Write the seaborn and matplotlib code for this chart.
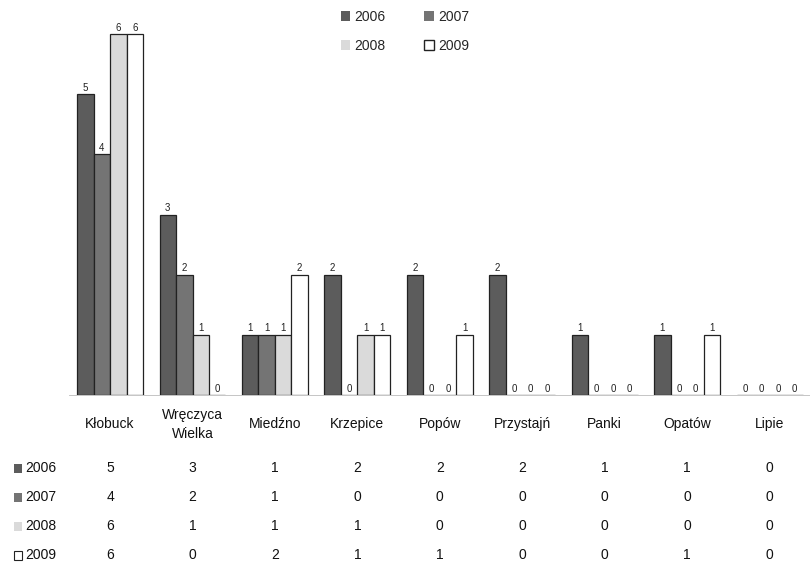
import matplotlib
matplotlib.use("Agg")
import matplotlib.pyplot as plt
import matplotlib.patches as mpatches
import matplotlib.transforms as mtrans
import seaborn as sns
import pandas as pd

categories = ["Kłobuck", "Wręczyca\nWielka", "Miedźno", "Krzepice", "Popów",
              "Przystajń", "Panki", "Opatów", "Lipie"]
years = ["2006", "2007", "2008", "2009"]
v2006 = [5, 3, 1, 2, 2, 2, 1, 1, 0]
v2007 = [4, 2, 1, 0, 0, 0, 0, 0, 0]
v2008 = [6, 1, 1, 1, 0, 0, 0, 0, 0]
v2009 = [6, 0, 2, 1, 1, 0, 0, 1, 0]
series = [v2006, v2007, v2008, v2009]
colors = ["#5c5c5c", "#747474", "#dadada", "#ffffff"]

rows = []
for y, vals in zip(years, series):
    for c, v in zip(categories, vals):
        rows.append({"gmina": c, "rok": y, "liczba": v})
df = pd.DataFrame(rows)

sns.set_theme(style="white")
plt.rcParams["font.family"] = ["Liberation Sans", "DejaVu Sans"]

fig = plt.figure(figsize=(8.1, 5.74), dpi=100)
ax = fig.add_axes([0.085, 0.312, 0.916, 0.66])

sns.barplot(data=df, x="gmina", y="liczba", hue="rok", palette=colors,
            order=categories, hue_order=years, width=0.8,
            edgecolor="#222222", linewidth=0.9, ax=ax, legend=False)

for cont in ax.containers:
    ax.bar_label(cont, fontsize=7, padding=1, color="#222222")

ax.set_ylim(0, 6.3)
ax.set_xlim(-0.5, len(categories) - 0.5)
ax.set_yticks([])
ax.set_xlabel("")
ax.set_ylabel("")
ax.set_xticks(range(len(categories)))
ax.set_xticklabels(categories, fontsize=10, color="#111111", va="center")
for t in ax.get_xticklabels():
    t.set_linespacing(1.45)
ax.tick_params(axis="x", length=0, pad=21)
for s in ["top", "right", "left"]:
    ax.spines[s].set_visible(False)
ax.spines["bottom"].set_color("#bbbbbb")
ax.spines["bottom"].set_linewidth(0.6)

# data table
blend = mtrans.blended_transform_factory(ax.transData, fig.transFigure)
row_y = [468, 497, 526, 555]
for y_px, yr, vals, col in zip(row_y, years, series, colors):
    fy = 1 - y_px / 574
    for i, v in enumerate(vals):
        ax.text(i, fy, str(v), transform=blend, ha="center", va="center",
                fontsize=10, color="#111111", clip_on=False)
    fig.patches.append(mpatches.Rectangle((14 / 810, fy - 4.5 / 574), 8 / 810, 9 / 574,
                                          transform=fig.transFigure, facecolor=col,
                                          edgecolor="#222222" if yr == "2009" else "none",
                                          linewidth=0.8))
    fig.text(25 / 810, fy, yr, ha="left", va="center", fontsize=10, color="#111111")

handles = [mpatches.Patch(facecolor=c, edgecolor="#222222" if y == "2009" else "none",
                          label=y) for c, y in zip(colors, years)]
order = [0, 2, 1, 3]
fig.legend(handles=[handles[i] for i in order], loc="upper center",
           bbox_to_anchor=(0.5, 1.005), ncol=2,
           frameon=False, fontsize=10, handlelength=0.7, handleheight=0.7,
           columnspacing=2.8, handletextpad=0.3, labelspacing=1.1)

fig.savefig("out.png", dpi=100)
